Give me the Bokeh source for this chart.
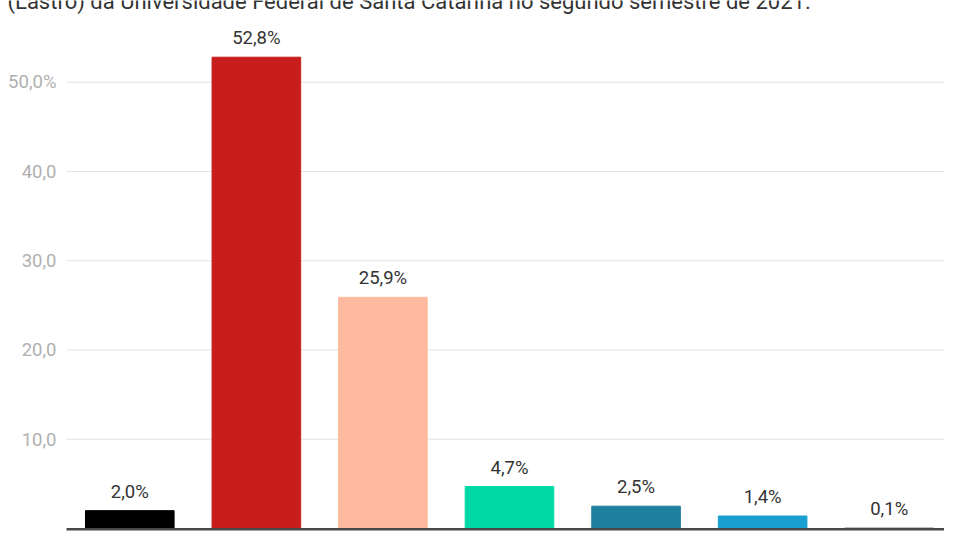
from bokeh.plotting import figure
from bokeh.models import ColumnDataSource, Label
from bokeh.core.properties import value
from bokeh.embed import file_html
from bokeh.resources import INLINE

# data
positions = [0, 1, 2, 3, 4, 5, 6]
values = [2.0, 52.8, 25.9, 4.7, 2.5, 1.4, 0.1]
labels = ["2,0%", "52,8%", "25,9%", "4,7%", "2,5%", "1,4%", "0,1%"]
colors = ["#000000", "#c71d1d", "#fdba9e", "#00d9a6", "#1f7f9f", "#189fd0", "#bdbdbd"]
y_ticks = [10, 20, 30, 40, 50]
y_tick_labels = ["10,0", "20,0", "30,0", "40,0", "50,0%"]
title_text = "(Lastro) da Universidade Federal de Santa Catarina no segundo semestre de 2021."

FONT = "Roboto"
PX = 8.926      # pixels per value unit
SLOT = 126.57   # pixels per category slot
W, H = 944, 532
LEFT = 66       # left edge of plotting area (px)

x_start = -0.5 - LEFT / SLOT
x_end = -0.5 + (W - LEFT) / SLOT

src = ColumnDataSource(dict(x=positions, top=values, lab=labels, color=colors))
grid = ColumnDataSource(dict(y=y_ticks, lab=y_tick_labels))

p = figure(width=W, height=H, output_backend="svg", toolbar_location=None,
           x_range=(x_start, x_end), y_range=(-4 / PX, 528 / PX),
           min_border_left=0, min_border_right=0, min_border_top=0, min_border_bottom=0)
p.outline_line_color = None
p.background_fill_color = "white"
p.border_fill_color = "white"
p.xaxis.visible = False
p.yaxis.visible = False
p.xgrid.visible = False
p.ygrid.visible = False

# gridlines and y tick labels
p.segment(x0=-0.5, x1=x_end, y0="y", y1="y", source=grid, line_color="#e3e3e3", line_width=1)
p.text(x=-0.5, y="y", text="lab", source=grid, x_offset=-10, text_align="right",
       text_baseline="middle", text_color="#b0b0b0", text_font=value(FONT),
       text_font_size="18.5px")

# bars
p.vbar(x="x", top="top", bottom=0, width=0.7, color="color", source=src)
p.text(x="x", y="top", text="lab", source=src, text_align="center",
       text_baseline="middle", y_offset=-19, text_color="#333333",
       text_font=value(FONT), text_font_size="18.5px")

# baseline
p.segment(x0=[-0.5], x1=[x_end], y0=[-0.08], y1=[-0.08], line_color="#4a4a4a", line_width=2.5)

# (cut-off) title
p.add_layout(Label(x=-0.5 - (LEFT - 7) / SLOT, y=(528 - 0.5) / PX, text=title_text,
                   text_font=FONT, text_font_size="22px", text_color="#333333",
                   text_baseline="middle", text_align="left"))

open("out.html", "w").write(file_html(p, INLINE))
